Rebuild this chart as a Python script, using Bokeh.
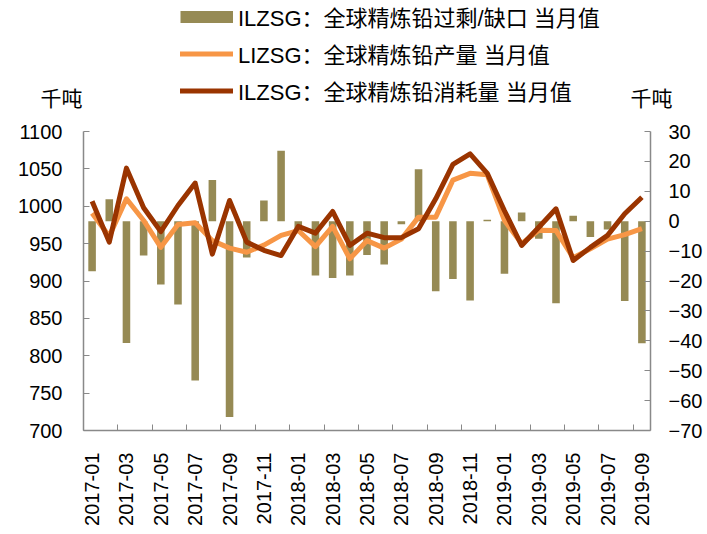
from bokeh.plotting import figure
from bokeh.models import Range1d, LinearAxis, FixedTicker, Legend, LegendItem, Label, ColumnDataSource
from bokeh.layouts import column
from bokeh.embed import file_html
from bokeh.resources import INLINE
import math

months = ["2017-01", "2017-02", "2017-03", "2017-04", "2017-05", "2017-06", "2017-07", "2017-08",
          "2017-09", "2017-10", "2017-11", "2017-12", "2018-01", "2018-02", "2018-03", "2018-04",
          "2018-05", "2018-06", "2018-07", "2018-08", "2018-09", "2018-10", "2018-11", "2018-12",
          "2019-01", "2019-02", "2019-03", "2019-04", "2019-05", "2019-06", "2019-07", "2019-08",
          "2019-09"]

balance = [-16.7, 7.3, -40.7, -11.5, -21.2, -27.9, -53.3, 13.8, -65.5, -12.1, 6.9, 23.6,
           -3.5, -18.2, -19.0, -18.2, -11.3, -14.5, -1.0, 17.4, -23.4, -19.3, -26.5, 0.5,
           -17.6, 2.9, -5.9, -27.4, 1.8, -5.3, -2.8, -26.7, -40.8]

production = [990.7, 960, 1010, 981, 945, 975.6, 978, 954, 944, 938.5, 948, 961,
              967.5, 946, 973, 929.7, 954, 944, 956, 985.4, 985.4, 1035, 1044, 1042,
              981, 950, 968, 967.5, 931, 943, 956, 962, 970]

consumption = [1006.8, 952, 1051, 998, 966, 1001, 1031, 936, 1007.7, 952, 941, 934,
               973, 964, 993, 947.5, 964, 958, 958, 970, 1010, 1056, 1070, 1044,
               994, 947.5, 972, 996.6, 927.4, 945, 961, 990, 1012]

left_ticks = [700, 750, 800, 850, 900, 950, 1000, 1050, 1100]
right_ticks = [-70, -60, -50, -40, -30, -20, -10, 0, 10, 20, 30]

name_bal = "ILZSG：全球精炼铅过剩/缺口 当月值"
name_prod = "LIZSG：全球精炼铅产量 当月值"
name_cons = "ILZSG：全球精炼铅消耗量 当月值"
unit = "千吨"

FONT = "'Liberation Sans', 'Noto Sans CJK SC'"
BAR_C = "#968A54"
PROD_C = "#F79646"
CONS_C = "#9A3400"
AXIS_C = "#898989"

W = 706
TOP_H = 117
MAIN_H = 415

# ---------------- header strip: legend and unit labels ----------------
head = figure(width=W, height=TOP_H, output_backend="svg", toolbar_location=None,
              x_range=Range1d(0, W), y_range=Range1d(0, TOP_H),
              x_axis_location=None, y_axis_location=None, min_border=0)
head.outline_line_color = None
head.xgrid.visible = False
head.ygrid.visible = False
if "frame_align" in head.properties():
    head.frame_align = False
else:
    head.x_range = Range1d(83, 650)

# legend-only renderers, their single point lies off the visible range
leg_bar = head.line(x=[-1000], y=[-1000], line_color=BAR_C, line_width=12)
leg_prod = head.line(x=[-1000], y=[-1000], line_color=PROD_C, line_width=5, line_cap="round")
leg_cons = head.line(x=[-1000], y=[-1000], line_color=CONS_C, line_width=5, line_cap="round")

legend = Legend(items=[LegendItem(label=name_bal, renderers=[leg_bar]),
                       LegendItem(label=name_prod, renderers=[leg_prod]),
                       LegendItem(label=name_cons, renderers=[leg_cons])],
                location=(180, 11), orientation="vertical",
                glyph_width=53, glyph_height=29, label_height=29, label_standoff=5,
                spacing=5, padding=0, margin=0,
                border_line_color=None, background_fill_alpha=0,
                label_text_font=FONT, label_text_font_size="22px", label_text_color="black")
head.add_layout(legend, "center")

for ux in (61, 651):
    head.add_layout(Label(x=ux, y=TOP_H - 98, text=unit, text_font=FONT, text_font_size="21px",
                          text_align="center", text_baseline="middle", text_color="black"))

# ---------------- main chart ----------------
n = len(months)
xs = [i + 0.5 for i in range(n)]
src = ColumnDataSource(dict(x=xs, bal=balance, prod=production, cons=consumption))

p = figure(width=W, height=MAIN_H, output_backend="svg", toolbar_location=None,
           x_range=Range1d(0, n), y_range=Range1d(700, 1100),
           min_border_left=83, min_border_right=56, min_border_top=14, min_border_bottom=102)
p.extra_y_ranges = {"right": Range1d(-70, 30)}
p.outline_line_color = None
p.xgrid.visible = False
p.ygrid.visible = False

p.vbar(x="x", top="bal", bottom=0, width=0.44, source=src, y_range_name="right",
       fill_color=BAR_C, line_color=None)
p.line(x="x", y="prod", source=src, line_color=PROD_C, line_width=5, line_join="round")
p.line(x="x", y="cons", source=src, line_color=CONS_C, line_width=5, line_join="round")


def style_axis(ax):
    ax.axis_line_color = AXIS_C
    ax.axis_line_width = 1.5
    ax.major_tick_line_color = AXIS_C
    ax.minor_tick_line_color = AXIS_C
    ax.major_label_text_font = FONT
    ax.major_label_text_font_size = "20px"
    ax.major_label_text_color = "black"


yl = p.yaxis[0]
style_axis(yl)
yl.ticker = FixedTicker(ticks=left_ticks)
yl.major_tick_in = 6
yl.major_tick_out = 0
yl.minor_tick_line_color = None
yl.major_label_standoff = 21

yr = LinearAxis(y_range_name="right", ticker=FixedTicker(ticks=right_ticks))
style_axis(yr)
yr.major_tick_in = 6
yr.major_tick_out = 0
yr.minor_tick_line_color = None
yr.major_label_standoff = 18
p.add_layout(yr, "right")

xa = p.xaxis[0]
style_axis(xa)
label_pos = [xs[i] for i in range(0, n, 2)]
xa.ticker = FixedTicker(ticks=label_pos, minor_ticks=[float(i) for i in range(0, n, 2)])
xa.major_label_overrides = {xs[i]: months[i] for i in range(0, n, 2)}
xa.major_tick_line_color = None
xa.minor_tick_in = 6
xa.minor_tick_out = 0
xa.major_label_orientation = math.pi / 2
xa.major_label_standoff = 16

layout = column(head, p, spacing=0)
open("out.html", "w").write(file_html(layout, INLINE))
